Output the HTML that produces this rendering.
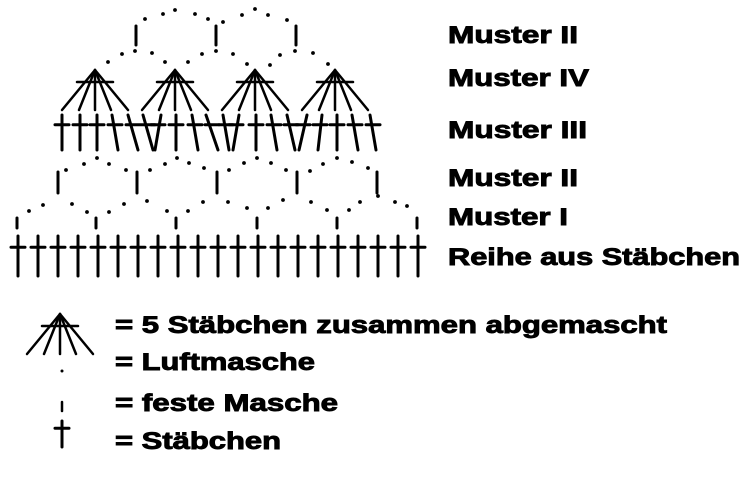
<!DOCTYPE html><html><head><style>body{margin:0;background:#fff;width:750px;height:486px;overflow:hidden}
text{font-family:"Liberation Sans",sans-serif;font-weight:bold;font-size:24px;fill:#000;stroke:#000;stroke-width:0.9}</style></head><body>
<svg width="750" height="486" viewBox="0 0 750 486" stroke="#000" stroke-linecap="round">
<g id="d" fill="#000" stroke="none"></g>
<g stroke-width="3" id="s"></g>
<g>
<text x="448" y="43" textLength="130" lengthAdjust="spacingAndGlyphs">Muster II</text>
<text x="448" y="86" textLength="141" lengthAdjust="spacingAndGlyphs">Muster IV</text>
<text x="448" y="138" textLength="139" lengthAdjust="spacingAndGlyphs">Muster III</text>
<text x="448" y="186" textLength="130" lengthAdjust="spacingAndGlyphs">Muster II</text>
<text x="448" y="225" textLength="120" lengthAdjust="spacingAndGlyphs">Muster I</text>
<text x="448" y="265" textLength="292" lengthAdjust="spacingAndGlyphs">Reihe aus Stäbchen</text>
<text x="115" y="333" textLength="552" lengthAdjust="spacingAndGlyphs">= 5 Stäbchen zusammen abgemascht</text>
<text x="115" y="370" textLength="200" lengthAdjust="spacingAndGlyphs">= Luftmasche</text>
<text x="115" y="411" textLength="223" lengthAdjust="spacingAndGlyphs">= feste Masche</text>
<text x="115" y="449" textLength="166" lengthAdjust="spacingAndGlyphs">= Stäbchen</text>
</g>
</svg>
<script>
var ns="http://www.w3.org/2000/svg",s=document.getElementById('s'),d=document.getElementById('d');
function L(a,b,c,e,w){var l=document.createElementNS(ns,'line');l.setAttribute('x1',a);l.setAttribute('y1',b);l.setAttribute('x2',c);l.setAttribute('y2',e);if(w)l.setAttribute('stroke-width',w);s.appendChild(l);}
function D(x,y,r){var c=document.createElementNS(ns,'circle');c.setAttribute('cx',x);c.setAttribute('cy',y);c.setAttribute('r',r||1.9);d.appendChild(c);}
function T(x,y,h,sl){L(x+sl,y,x-sl,y+h);L(x-7,y+h*0.28,x+7,y+h*0.28);}
function F(x,y){L(x-18,y+12,x+18,y+12,2.5);[-33,-16,0,16,33].forEach(function(o){L(x,y,x+o,y+40,2.5);});}
for(var i=0;i<21;i++)T(18+i*20,236,40,0);
[17,96,176,257,337,417].forEach(function(x){L(x,218,x,228);});
[58,137,217,297,377].forEach(function(x){L(x,172,x,193);});
var dI=[[29,211],[43,205],[72,204],[87,212],[109,212],[124,204],[147,201],[167,211],[188,211],[203,202],[228,202],[247,208],[268,208],[283,200],[311,202],[327,210],[349,210],[360,202],[378,196],[395,202],[407,206]];
dI.forEach(function(p){D(p[0],p[1]);});
var dII=[[66,170],[84,164],[97,158],[109,164],[126,170],[150,170],[165,164],[177,158],[189,163],[204,168],[229,170],[244,163],[257,158],[271,163],[286,170],[310,171],[323,164],[337,158],[352,162],[368,168]];
dII.forEach(function(p){D(p[0],p[1]);});
var xs=[62,80,97,115,133,148,158,176,195,212,226,236,256,274,291,303,320,337,355,373];
var sl=[0,0,0,-3,-5,-5,3,0,-3,-6,-3,3,0,-3,-4,4,2,0,-3,-3];
xs.forEach(function(x,i){T(x,115,35,sl[i]);});
[95,175,255,335].forEach(function(x){F(x,70);});
[136,216,296].forEach(function(x){L(x,26,x,45);});
[[145,19],[163,14],[175,10],[195,14],[208,19],[223,22],[242,15],[255,9],[268,15],[287,20],[108,62],[122,54],[135,51],[152,53],[165,62],[188,62],[202,54],[216,51],[233,54],[247,64],[270,65],[280,55],[295,51],[313,53],[328,64]].forEach(function(p){D(p[0],p[1]);});
F(60,314);D(62,371,1.5);L(62,402,62,411,2.5);T(62,421,26,0);
</script>
</body></html>
